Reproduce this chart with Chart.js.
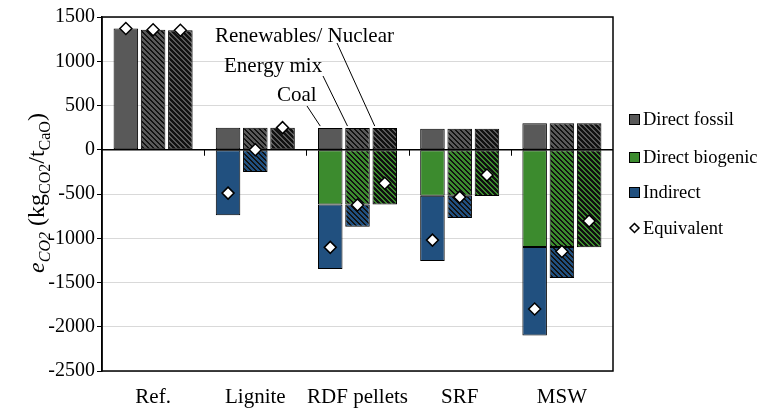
<!DOCTYPE html>
<html>
<head>
<meta charset="utf-8">
<script src="https://cdn.jsdelivr.net/npm/chart.js@4/dist/chart.umd.min.js"></script>
<style>
  html, body { margin: 0; padding: 0; background: #fff; }
  canvas { display: block; }
</style>
</head>
<body>
<canvas id="chart" width="759" height="408"></canvas>
<script>
// Fuel categories and electricity scenarios
const categories = ['Ref.', 'Lignite', 'RDF pellets', 'SRF', 'MSW'];
const scenarioLabels = ['Coal', 'Energy mix', 'Renewables/ Nuclear'];
const yTickValues = [1500, 1000, 500, 0, -500, -1000, -1500, -2000, -2500];

// Direct fossil emissions (kg CO2 / t CaO)
const fossilCoal = [1370, 250, 245, 237, 300];
const fossilMix  = [1355, 250, 245, 237, 300];
const fossilRen  = [1350, 250, 245, 237, 300];

// Direct biogenic emissions
const bioCoal = [null, null, -620, -520, -1100];
const bioMix  = [null, null, -620, -520, -1100];
const bioRen  = [null, null, -620, -522, -1102];

// Indirect emissions
const indCoal = [null, -740, -728, -738, -1000];
const indMix  = [null, -250, -250, -252, -350];
const indRen  = [null, null, null, null, null];

// Equivalent emissions
const eqCoal = [1370, -490, -1103, -1021, -1800];
const eqMix  = [1355, 0, -625, -535, -1150];
const eqRen  = [1350, 250, -378, -285, -805];

const SERIF = '"Liberation Serif", "Times New Roman", serif';
const GRAY = '#595959';
const GREEN = '#3c8b2e';
const BLUE = '#21507f';

const canvas = document.getElementById('chart');
const ctx = canvas.getContext('2d');

// Diagonal hatch fill: stripeWidth 0 = solid colour
function hatch(base, stripeWidth) {
  if (!stripeWidth) return base;
  const s = 5;
  const tile = document.createElement('canvas');
  tile.width = s; tile.height = s;
  const g = tile.getContext('2d');
  g.fillStyle = base;
  g.fillRect(0, 0, s, s);
  g.fillStyle = '#111';
  for (let y = 0; y < s; y++) {
    for (let x = 0; x < s; x++) {
      if ((((x - y) % s) + s) % s < stripeWidth) g.fillRect(x, y, 1, 1);
    }
  }
  return ctx.createPattern(tile, 'repeat');
}

const fossilSets = [fossilCoal, fossilMix, fossilRen];
const bioSets = [bioCoal, bioMix, bioRen];
const indSets = [indCoal, indMix, indRen];
const eqSets = [eqCoal, eqMix, eqRen];
const stripeBy = [0, 2, 3];

const datasets = [];
const fossilIndex = [];
scenarioLabels.forEach((name, k) => {
  const common = {
    type: 'bar', stack: 's' + k, borderColor: '#000', borderWidth: 1,
    borderSkipped: false, order: 1
  };
  fossilIndex.push(datasets.length);
  datasets.push(Object.assign({ label: 'Direct fossil', data: fossilSets[k],
    backgroundColor: hatch(GRAY, stripeBy[k]) }, common));
  datasets.push(Object.assign({ label: 'Direct biogenic', data: bioSets[k],
    backgroundColor: hatch(GREEN, stripeBy[k]) }, common));
  datasets.push(Object.assign({ label: 'Indirect', data: indSets[k],
    backgroundColor: hatch(BLUE, stripeBy[k]) }, common));
});
scenarioLabels.forEach((name, k) => {
  datasets.push({
    type: 'line', label: 'Equivalent', data: eqSets[k], stack: 'eq' + k,
    showLine: false, pointStyle: 'rectRot', pointRadius: 6, pointHoverRadius: 6,
    pointBackgroundColor: '#fff', pointBorderColor: '#000', pointBorderWidth: 1.5,
    order: 0, anchorSet: k
  });
});

// Put each diamond on the centre of its scenario's bar
const alignEquivalent = {
  id: 'alignEquivalent',
  afterDatasetsUpdate(chart) {
    chart.data.datasets.forEach((ds, i) => {
      if (ds.type !== 'line') return;
      const bars = chart.getDatasetMeta(fossilIndex[ds.anchorSet]).data;
      chart.getDatasetMeta(i).data.forEach((pt, j) => { pt.x = bars[j].x; });
    });
  }
};

// Zero line, category dividers and frame
const frame = {
  id: 'frame',
  beforeDatasetsDraw(chart) {
    const { ctx, chartArea: a, scales: { x, y } } = chart;
    const y0 = y.getPixelForValue(0);
    ctx.save();
    ctx.strokeStyle = '#000';
    ctx.lineWidth = 1.5;
    ctx.beginPath();
    ctx.moveTo(a.left, y0); ctx.lineTo(a.right, y0);
    ctx.stroke();
    ctx.lineWidth = 1;
    for (let i = 1; i < categories.length; i++) {
      const xb = Math.round((x.getPixelForValue(i - 1) + x.getPixelForValue(i)) / 2) + 0.5;
      ctx.beginPath();
      ctx.moveTo(xb, y0); ctx.lineTo(xb, y0 + 6);
      ctx.stroke();
    }
    ctx.restore();
  },
  afterDraw(chart) {
    const { ctx, chartArea: a } = chart;
    ctx.save();
    ctx.strokeStyle = '#000';
    ctx.lineWidth = 1.5;
    ctx.strokeRect(a.left, a.top, a.right - a.left, a.bottom - a.top);
    ctx.restore();
  }
};

// Scenario call-outs pointing at the RDF pellet bars
const callouts = {
  id: 'callouts',
  afterDraw(chart) {
    const { ctx } = chart;
    const labelPos = [[277, 101], [224, 72], [215, 42]];
    const lineStart = [[307, 106], [323, 76], [337, 43]];
    const target = categories.indexOf('RDF pellets');
    ctx.save();
    ctx.fillStyle = '#000';
    ctx.strokeStyle = '#000';
    ctx.lineWidth = 1;
    ctx.font = '21px ' + SERIF;
    ctx.textAlign = 'left';
    ctx.textBaseline = 'alphabetic';
    scenarioLabels.forEach((name, k) => {
      ctx.fillText(name, labelPos[k][0], labelPos[k][1]);
      const bar = chart.getDatasetMeta(fossilIndex[k]).data[target];
      ctx.beginPath();
      ctx.moveTo(lineStart[k][0], lineStart[k][1]);
      ctx.lineTo(bar.x - 10, bar.y - 2);
      ctx.stroke();
    });
    ctx.restore();
  }
};

// Y axis title with subscripts
const yTitle = {
  id: 'yTitle',
  afterDraw(chart) {
    const { ctx } = chart;
    const main = 24, sub = 16, drop = 6;
    const parts = [
      { t: 'e', f: 'italic ' + main + 'px ' + SERIF, d: 0 },
      { t: 'CO2', f: 'italic ' + sub + 'px ' + SERIF, d: drop },
      { t: ' (kg', f: main + 'px ' + SERIF, d: 0 },
      { t: 'CO2', f: sub + 'px ' + SERIF, d: drop },
      { t: '/t', f: main + 'px ' + SERIF, d: 0 },
      { t: 'CaO', f: sub + 'px ' + SERIF, d: drop },
      { t: ')', f: main + 'px ' + SERIF, d: 0 }
    ];
    ctx.save();
    let total = 0;
    parts.forEach(p => { ctx.font = p.f; p.w = ctx.measureText(p.t).width; total += p.w; });
    ctx.translate(44, 193);
    ctx.rotate(-Math.PI / 2);
    ctx.fillStyle = '#000';
    ctx.textBaseline = 'alphabetic';
    ctx.textAlign = 'left';
    let xPos = -total / 2;
    parts.forEach(p => { ctx.font = p.f; ctx.fillText(p.t, xPos, p.d); xPos += p.w; });
    ctx.restore();
  }
};

// Legend on the right
const sideLegend = {
  id: 'sideLegend',
  afterDraw(chart) {
    const { ctx } = chart;
    const items = [
      { label: 'Direct fossil', color: GRAY, y: 119 },
      { label: 'Direct biogenic', color: GREEN, y: 157 },
      { label: 'Indirect', color: BLUE, y: 192 },
      { label: 'Equivalent', diamond: true, y: 228 }
    ];
    ctx.save();
    ctx.font = '18.5px ' + SERIF;
    ctx.textBaseline = 'middle';
    ctx.textAlign = 'left';
    items.forEach(it => {
      ctx.strokeStyle = '#000';
      ctx.lineWidth = 1;
      if (it.diamond) {
        const cx = 634.5, cy = it.y, r = 4.5;
        ctx.beginPath();
        ctx.moveTo(cx, cy - r); ctx.lineTo(cx + r, cy); ctx.lineTo(cx, cy + r); ctx.lineTo(cx - r, cy);
        ctx.closePath();
        ctx.fillStyle = '#fff';
        ctx.fill();
        ctx.lineWidth = 1.5;
        ctx.stroke();
      } else {
        ctx.fillStyle = it.color;
        ctx.fillRect(629.5, it.y - 4.5, 10, 10);
        ctx.strokeRect(629.5, it.y - 4.5, 10, 10);
      }
      ctx.fillStyle = '#000';
      ctx.fillText(it.label, 643, it.y + 1);
    });
    ctx.restore();
  }
};

new Chart(ctx, {
  data: { labels: categories, datasets },
  options: {
    responsive: false,
    animation: false,
    devicePixelRatio: 1,
    layout: { padding: { left: 0, right: 146, top: 17, bottom: 0 } },
    plugins: { legend: { display: false }, tooltip: { enabled: false } },
    scales: {
      x: {
        stacked: true,
        categoryPercentage: 0.763,
        barPercentage: 0.81,
        grid: { display: false },
        border: { display: false },
        ticks: { color: '#000', font: { family: SERIF, size: 21 }, padding: 6,
                 maxRotation: 0, autoSkip: false },
        afterFit(s) { s.height = 37; }
      },
      y: {
        stacked: true,
        min: -2500, max: 1500,
        afterBuildTicks(s) { s.ticks = yTickValues.map(v => ({ value: v })); },
        grid: { color: '#d9d9d9', lineWidth: 1, tickColor: '#000', tickLength: 5, drawTicks: true },
        border: { color: '#000', width: 1.5 },
        ticks: { color: '#000', font: { family: SERIF, size: 20 }, padding: 2,
                 callback: v => String(v) },
        afterFit(s) { s.width = 102; }
      }
    }
  },
  plugins: [alignEquivalent, frame, callouts, yTitle, sideLegend]
});
</script>
</body>
</html>
